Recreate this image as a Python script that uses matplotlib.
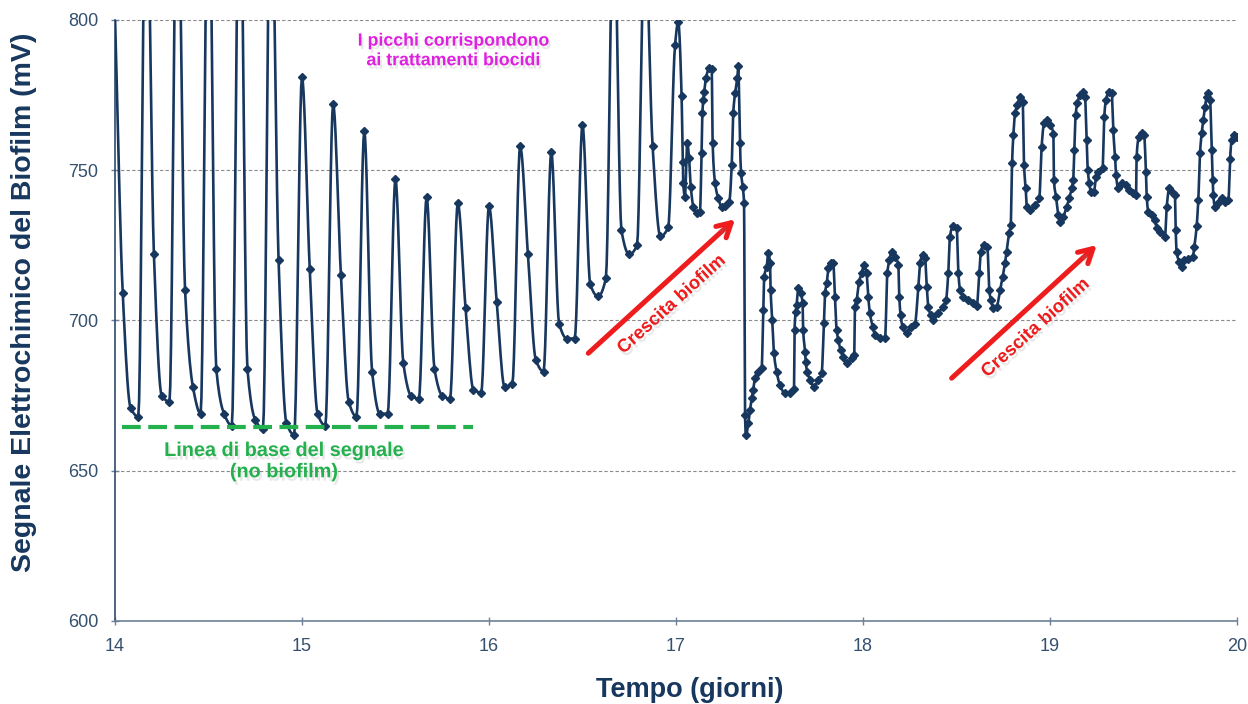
import numpy as np
import matplotlib.pyplot as plt
import matplotlib.patheffects as pe

# hourly readings, from day 14.0 (one value per hour)
hourly_mv = [802, 709, 671, 668, 858, 722, 675, 673, 858, 710, 678, 669,
             860, 684, 669, 665, 860, 684, 667, 664, 855, 720, 666, 662,
             781, 717, 669, 665, 772, 715, 673, 668, 763, 683, 669, 669,
             747, 686, 675, 674, 741, 684, 675, 674, 739, 704, 677, 676,
             738, 706, 678, 679, 758, 722, 687, 683, 756, 699, 694, 694,
             765, 712, 708, 714, 840, 730, 722, 725, 830, 758, 728, 731]

# denser logging from day 17 on
dense_day = [16.995, 17.012, 17.030, 17.036, 17.039, 17.048, 17.060, 17.070, 17.079, 17.093,
             17.111, 17.128, 17.137, 17.141, 17.146, 17.151, 17.160, 17.178, 17.191, 17.196,
             17.209, 17.226, 17.244, 17.262, 17.285, 17.298, 17.306, 17.316, 17.328, 17.333,
             17.342, 17.348, 17.357, 17.364, 17.369, 17.374, 17.387, 17.396, 17.405, 17.413,
             17.422, 17.440, 17.458, 17.467, 17.472, 17.485, 17.494, 17.503, 17.506, 17.515,
             17.524, 17.538, 17.556, 17.583, 17.610, 17.631, 17.634, 17.640, 17.645, 17.654,
             17.667, 17.677, 17.680, 17.690, 17.693, 17.702, 17.717, 17.738, 17.761, 17.779,
             17.791, 17.797, 17.806, 17.815, 17.827, 17.841, 17.850, 17.859, 17.868, 17.880,
             17.895, 17.912, 17.939, 17.953, 17.957, 17.966, 17.979, 17.993, 18.005, 18.019,
             18.028, 18.037, 18.052, 18.064, 18.091, 18.118, 18.130, 18.141, 18.153, 18.171,
             18.189, 18.194, 18.201, 18.212, 18.234, 18.255, 18.278, 18.296, 18.305, 18.319,
             18.332, 18.341, 18.349, 18.362, 18.376, 18.403, 18.426, 18.444, 18.456, 18.465,
             18.480, 18.501, 18.510, 18.519, 18.536, 18.563, 18.590, 18.608, 18.622, 18.630,
             18.647, 18.665, 18.675, 18.684, 18.697, 18.715, 18.733, 18.747, 18.759, 18.768,
             18.781, 18.790, 18.797, 18.804, 18.813, 18.825, 18.840, 18.854, 18.861, 18.870,
             18.876, 18.893, 18.920, 18.943, 18.955, 18.968, 18.982, 19.000, 19.018, 19.021,
             19.032, 19.044, 19.053, 19.071, 19.089, 19.103, 19.116, 19.124, 19.130, 19.137,
             19.146, 19.160, 19.175, 19.187, 19.196, 19.202, 19.210, 19.218, 19.235, 19.246,
             19.258, 19.281, 19.290, 19.299, 19.316, 19.330, 19.338, 19.348, 19.353, 19.365,
             19.384, 19.406, 19.424, 19.445, 19.460, 19.463, 19.476, 19.490, 19.503, 19.513,
             19.517, 19.526, 19.544, 19.561, 19.570, 19.588, 19.615, 19.624, 19.638, 19.656,
             19.668, 19.672, 19.677, 19.691, 19.704, 19.717, 19.740, 19.763, 19.772, 19.784,
             19.793, 19.802, 19.811, 19.820, 19.829, 19.838, 19.847, 19.856, 19.865, 19.870,
             19.873, 19.882, 19.900, 19.918, 19.936, 19.954, 19.963, 19.971, 19.984, 19.998]
dense_mv = [791.7, 799.4, 774.7, 752.9, 745.6, 741.2, 759.2, 754.0, 744.5, 737.9,
            735.7, 736.2, 755.6, 768.9, 773.4, 776.1, 780.6, 783.9, 783.6, 759.0,
            745.7, 740.7, 737.9, 738.0, 739.5, 751.7, 769.0, 775.6, 780.6, 784.7,
            759.0, 749.0, 744.5, 739.0, 668.6, 661.9, 665.8, 670.2, 674.1, 676.9,
            680.8, 683.0, 684.1, 703.5, 714.6, 717.9, 722.4, 719.0, 710.2, 700.2,
            689.1, 683.0, 678.5, 675.8, 675.8, 677.1, 696.8, 702.9, 705.2, 710.7,
            709.0, 705.7, 696.8, 689.6, 686.3, 683.0, 680.2, 678.0, 680.2, 682.4,
            699.1, 709.0, 712.4, 717.4, 719.2, 719.0, 707.9, 696.8, 693.5, 690.2,
            688.0, 685.8, 687.4, 688.5, 704.6, 706.8, 712.9, 715.7, 718.5, 715.7,
            707.9, 702.4, 697.9, 695.2, 694.1, 694.1, 715.7, 720.1, 722.9, 721.2,
            718.5, 707.9, 701.8, 697.9, 695.7, 697.9, 699.0, 711.3, 719.0, 721.8,
            720.7, 711.3, 704.6, 701.8, 700.2, 702.4, 704.6, 706.8, 715.7, 727.9,
            731.3, 730.7, 715.7, 710.2, 707.9, 706.8, 705.9, 704.8, 715.7, 722.9,
            725.1, 724.6, 710.2, 706.8, 704.0, 704.6, 710.2, 714.6, 719.0, 722.9,
            729.0, 731.8, 752.3, 761.7, 768.9, 771.7, 774.5, 772.8, 751.7, 744.0,
            737.9, 736.8, 738.4, 740.7, 757.8, 765.6, 766.7, 765.1, 762.0, 746.8,
            741.2, 735.1, 732.9, 734.5, 737.9, 740.7, 744.0, 746.8, 756.7, 768.4,
            772.3, 775.0, 776.1, 774.5, 760.1, 750.1, 745.6, 742.9, 742.9, 747.9,
            749.5, 750.6, 767.8, 773.4, 776.1, 775.6, 763.4, 754.5, 748.4, 744.0,
            745.6, 745.1, 743.4, 742.3, 741.8, 754.5, 761.2, 762.3, 761.7, 749.5,
            741.2, 736.2, 735.1, 733.4, 730.7, 729.6, 727.9, 737.9, 744.0, 742.3,
            741.8, 730.1, 722.9, 719.6, 717.9, 720.1, 720.4, 721.2, 724.6, 731.3,
            740.1, 755.6, 762.3, 766.7, 771.2, 774.5, 775.6, 773.4, 756.7, 746.8,
            741.8, 737.9, 739.0, 740.7, 739.5, 740.1, 753.9, 760.1, 761.7, 761.2]

day = np.concatenate([14 + np.arange(len(hourly_mv)) / 24, dense_day])
mv = np.concatenate([hourly_mv, dense_mv]).astype(float)

navy = '#17375e'


def smooth(x, y, n=10):
    # smoothed line through the points, monotone cubic so the dips don't overshoot
    h = np.diff(x)
    d = np.diff(y) / h
    m = np.zeros_like(y)
    m[0], m[-1] = d[0], d[-1]
    for i in range(1, len(y) - 1):
        if d[i - 1] * d[i] > 0:
            w1 = 2 * h[i] + h[i - 1]
            w2 = h[i] + 2 * h[i - 1]
            m[i] = (w1 + w2) / (w1 / d[i - 1] + w2 / d[i])
    t = np.linspace(0, 1, n, endpoint=False)[:, None]
    h00 = 2 * t ** 3 - 3 * t ** 2 + 1
    h10 = t ** 3 - 2 * t ** 2 + t
    h01 = -2 * t ** 3 + 3 * t ** 2
    h11 = t ** 3 - t ** 2
    sx = x[:-1] + t * h
    sy = h00 * y[:-1] + h10 * h * m[:-1] + h01 * y[1:] + h11 * h * m[1:]
    return np.append(sx.T.ravel(), x[-1]), np.append(sy.T.ravel(), y[-1])


fig = plt.figure(figsize=(12.48, 7.04), dpi=100)
ax = fig.add_axes([0.0921, 0.1179, 0.8991, 0.8537])

sx, sy = smooth(day, mv)
ax.plot(sx, sy, color=navy, lw=1.9, zorder=3)
ax.plot(day, mv, 'D', color=navy, ms=4, zorder=4)

ax.set_xlim(14, 20)
ax.set_ylim(600, 800)
ax.set_xticks(range(14, 21))
ax.set_yticks(range(600, 801, 50))
ax.yaxis.grid(True, color='#8a8a8a', lw=0.8, ls=(0, (3, 2)))
ax.set_axisbelow(True)
for s in ['top', 'right']:
    ax.spines[s].set_visible(False)
ax.spines['left'].set_color('#2c4a6e')
ax.spines['bottom'].set_color('#6e8198')
ax.spines['left'].set_linewidth(1.2)
ax.spines['bottom'].set_linewidth(1.2)
ax.tick_params(direction='inout', length=6, width=1, colors='#6e8198',
               labelcolor='#34506f', labelsize=13)
ax.tick_params(axis='y', pad=9)
ax.tick_params(axis='x', pad=9)
for lab in ax.get_xticklabels() + ax.get_yticklabels():
    lab.set_family(['Liberation Sans Narrow', 'Liberation Sans', 'DejaVu Sans'])

ax.set_xlabel('Tempo (giorni)', fontsize=19.5, fontweight='bold', color=navy,
              family='Liberation Sans')
ax.set_ylabel('Segnale Elettrochimico del Biofilm (mV)', fontsize=20.5, fontweight='bold',
              color=navy, family='Liberation Sans')
ax.xaxis.set_label_coords(0.5125, -0.093)
ax.yaxis.set_label_coords(-0.0695, 0.531)

shadow = [pe.withSimplePatchShadow(offset=(1.5, -2.5), shadow_rgbFace='#808080', alpha=0.18)]

# baseline
ax.plot([14.037, 15.914], [664.6, 664.6], color='#22b14c', lw=3, ls=(0, (4.5, 1.8)),
        zorder=5, path_effects=shadow)
ax.text(14.905, 653.2, 'Linea di base del segnale\n(no biofilm)', ha='center', va='center',
        fontsize=14.3, fontweight='bold', color='#22b14c', family='Liberation Sans',
        linespacing=1.15, path_effects=shadow, zorder=6)

ax.text(15.81, 789.7, 'I picchi corrispondono\nai trattamenti biocidi', ha='center', va='center',
        fontsize=12.8, fontweight='bold', color='#e020e0', family='Liberation Sans',
        linespacing=1.2, path_effects=shadow, zorder=6)

# growth arrows
arrows = [((16.531, 689.1), (17.316, 733.7), (16.977, 705.2)),
          ((18.474, 680.8), (19.25, 725.1), (18.923, 697.4))]
for tail, tip, lab in arrows:
    ax.annotate('', xy=tip, xytext=tail,
                arrowprops=dict(arrowstyle='->,head_length=1.0,head_width=0.55',
                                color='#ee1c1c', lw=3.6, shrinkA=0, shrinkB=0,
                                path_effects=shadow), zorder=6)
    ax.text(lab[0], lab[1], 'Crescita biofilm', rotation=42, rotation_mode='anchor',
            ha='center', va='center', fontsize=13.3, fontweight='bold', color='#ee1c1c',
            family='Liberation Sans', path_effects=shadow, zorder=6)

fig.savefig('out.png', dpi=100)
